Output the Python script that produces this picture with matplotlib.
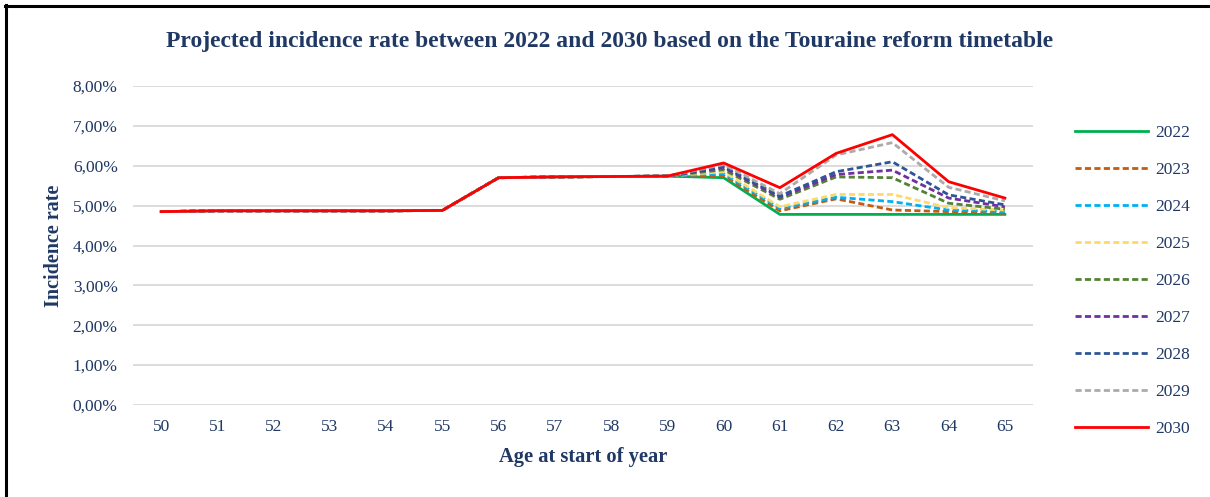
import numpy as np
import matplotlib.pyplot as plt
from matplotlib.lines import Line2D

ages = list(range(50, 66))
years = ["2022", "2023", "2024", "2025", "2026", "2027", "2028", "2029", "2030"]

# common part for ages 50-59 (all scenarios overlap)
base = [4.85, 4.87, 4.87, 4.87, 4.87, 4.88, 5.70, 5.72, 5.73, 5.74]

# ages 60-65 per scenario (in %)
tail = {
    "2022": [5.70, 4.78, 4.78, 4.78, 4.78, 4.78],
    "2023": [5.75, 4.87, 5.17, 4.89, 4.85, 4.81],
    "2024": [5.80, 4.93, 5.21, 5.10, 4.89, 4.85],
    "2025": [5.85, 4.97, 5.28, 5.28, 4.95, 4.89],
    "2026": [5.90, 5.16, 5.72, 5.70, 5.06, 4.91],
    "2027": [5.95, 5.21, 5.78, 5.89, 5.19, 4.97],
    "2028": [5.98, 5.24, 5.85, 6.10, 5.27, 5.02],
    "2029": [6.03, 5.30, 6.27, 6.58, 5.46, 5.12],
    "2030": [6.07, 5.45, 6.31, 6.78, 5.60, 5.19],
}

colors = ["#00B050", "#C55A11", "#00B0F0", "#FFD966", "#548235",
          "#7030A0", "#2F5597", "#AEAAAA", "#FF0000"]
styles = ["-", "--", "--", "--", "--", "--", "--", "--", "-"]

navy = "#1F3864"
plt.rcParams['font.family'] = ['Liberation Serif', 'DejaVu Serif']

fig = plt.figure(figsize=(12.10, 4.97), dpi=100)
ax = fig.add_axes([133 / 1210, 1 - 405 / 497, 900 / 1210, 319 / 497])

for i, yr in enumerate(years):
    vals = np.array(base + tail[yr]) / 100
    if styles[i] == "-":
        ax.plot(ages, vals, color=colors[i], linewidth=2.0, label=yr,
                zorder=3 if yr == "2030" else 2)
    else:
        ax.plot(ages, vals, color=colors[i], linewidth=2.0, label=yr,
                dashes=(2.2, 1.2), zorder=2)

ax.set_xlim(49.5, 65.5)
ax.set_ylim(0, 0.08)
ax.set_xticks(ages)
ax.set_yticks(np.arange(0, 0.081, 0.01))
ax.set_yticklabels([f"{v:.2f}%".replace(".", ",") for v in np.arange(0, 8.1, 1.0)])
ax.tick_params(length=0, colors=navy, labelsize=12.5, pad=10)
ax.tick_params(axis='y', pad=11)
for s in ax.spines.values():
    s.set_visible(False)
ax.grid(axis='y', color='#D9D9D9', linewidth=1.3)
ax.set_axisbelow(True)

ax.set_ylabel("Incidence rate", color=navy, fontsize=14.5, fontweight='bold', labelpad=6)
ax.set_xlabel("Age at start of year", color=navy, fontsize=14.8, fontweight='bold', labelpad=9)
fig.text(0.5 * (165 + 1055) / 1210, 1 - 41 / 497,
         "Projected incidence rate between 2022 and 2030 based on the Touraine reform timetable",
         ha='center', va='center', color=navy, fontsize=17, fontweight='bold')

leg = ax.legend(loc='upper left', bbox_to_anchor=((1068 - 133) / 900, 1 - (118 - 86) / 319),
                frameon=False, fontsize=12.5, labelspacing=1.2, handlelength=4.2,
                handletextpad=0.42, borderaxespad=0)
for t in leg.get_texts():
    t.set_color(navy)

# chart border (Excel-style frame)
fig.add_artist(Line2D([6 / 1210, 6 / 1210], [0, 1 - 5 / 497], color='black', linewidth=2.2))
fig.add_artist(Line2D([5 / 1210, 1], [1 - 6 / 497, 1 - 6 / 497], color='black', linewidth=2.2))

fig.savefig("out.png", dpi=100)
